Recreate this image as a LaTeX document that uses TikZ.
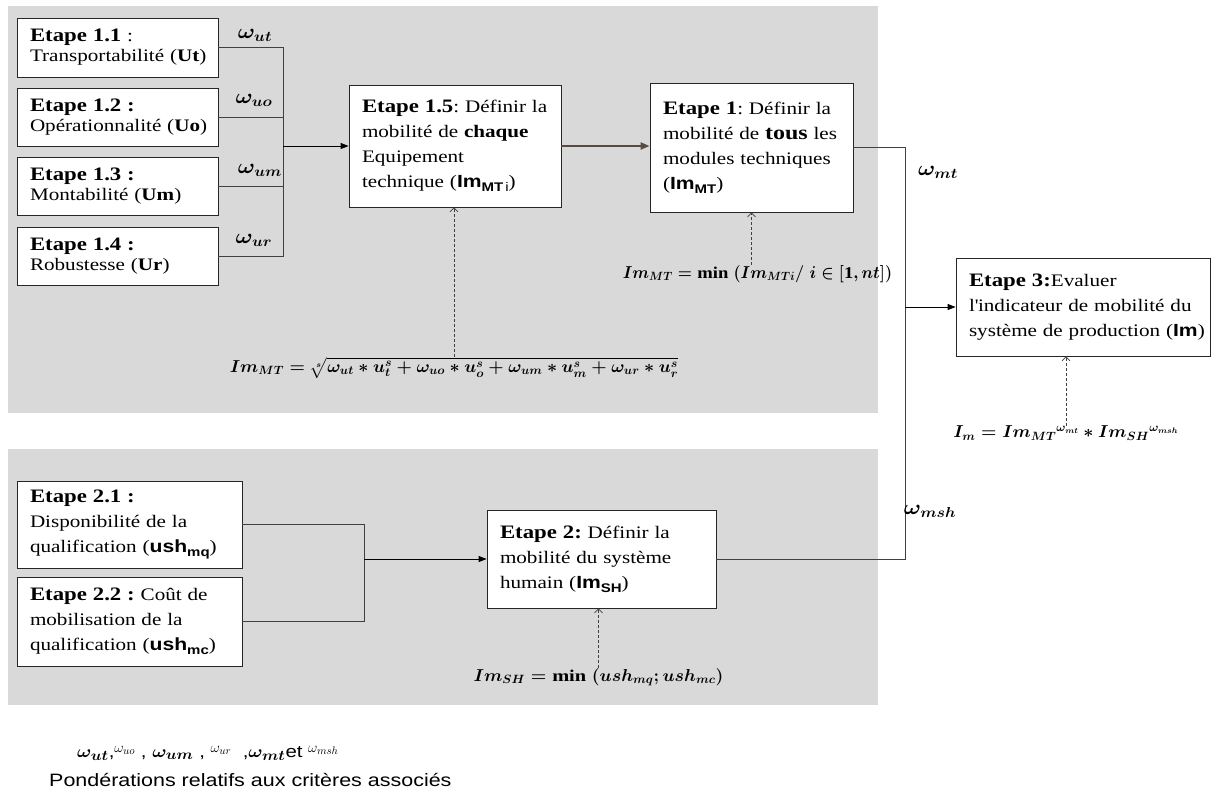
\documentclass[tikz,border=0pt]{standalone}
\usepackage{amsmath,bm}
\usepackage{graphicx}
\usepackage{fontspec}
\setmainfont{Liberation Serif}[FakeStretch=1.2]
\setsansfont{Liberation Sans}[FakeStretch=1.2]
\usetikzlibrary{arrows.meta}
\definecolor{panel}{HTML}{D9D9D9}
\definecolor{ln}{HTML}{404040}
\definecolor{brn}{HTML}{574A43}
\newcommand\hd[1]{{\fontsize{19}{20}\selectfont\bfseries #1}}
\newcommand\IM[1]{\textsf{\bfseries Im}\raisebox{-0.45ex}{\fontsize{12.5}{12.5}\selectfont\sffamily\bfseries #1}}
\newcommand\USH[1]{\textsf{\bfseries ush}\raisebox{-0.45ex}{\fontsize{12.5}{12.5}\selectfont\sffamily\bfseries #1}}
\newcommand\mstr[1]{\scalebox{1.1}[1]{#1}}
\newcommand\bfm[2]{\scalebox{#1}[1]{\boldmath$#2$}}
\newcommand\wsmall[1]{\raisebox{5pt}{\fontsize{15}{15}\selectfont$\omega_{#1}$}}
\newcommand\wbig[1]{{\fontsize{19}{19}\selectfont\mstr{$\bm{\omega_{#1}}$}}}
\tikzset{
  box/.style={draw=black!85, fill=white, line width=0.8pt, inner xsep=13pt, inner ysep=0pt,
    align=left, font=\fontsize{17.6}{25}\selectfont},
  sbox/.style={box, font=\fontsize{17.6}{20}\selectfont},
  conn/.style={draw=ln, line width=0.9pt},
  arr/.style={draw=black, line width=0.9pt, -{Triangle[length=8pt,width=6pt]}},
  barr/.style={draw=brn, line width=2pt, -{Triangle[length=9pt,width=7pt]}},
  darr/.style={draw=ln, line width=0.7pt, dash pattern=on 3pt off 2pt, -{Straight Barb[length=4pt,width=8pt]}},
  wlab/.style={inner sep=0pt, font=\fontsize{19.5}{19.5}\selectfont},
  frm/.style={inner sep=0pt, font=\fontsize{16.5}{16.5}\selectfont}
}
\begin{document}
\frenchspacing
\begin{tikzpicture}[x=1pt,y=-1pt]
\useasboundingbox (0,0) rectangle (1212,796);
% panels
\fill[panel] (8,6) rectangle (878,413);
\fill[panel] (8,449) rectangle (878,705);
% step 1 boxes
\node[sbox, minimum width=201pt, minimum height=59pt, text width=175pt] (b11) at (117.5,47.5)
  {\mbox{\hd{Etape 1.1} :}\\\mbox{Transportabilité (\textbf{Ut})}};
\node[sbox, minimum width=201pt, minimum height=58pt, text width=175pt] (b12) at (117.5,117)
  {\mbox{\hd{Etape 1.2 :}}\\\mbox{Opérationnalité (\textbf{Uo})}};
\node[sbox, minimum width=201pt, minimum height=58pt, text width=175pt] (b13) at (117.5,186)
  {\mbox{\hd{Etape 1.3 :}}\\\mbox{Montabilité (\textbf{Um})}};
\node[sbox, minimum width=201pt, minimum height=58pt, text width=175pt] (b14) at (117.5,256)
  {\mbox{\hd{Etape 1.4 :}}\\\mbox{Robustesse (\textbf{Ur})}};
\node[box, minimum width=212pt, minimum height=122pt, text width=186pt] (b15) at (455,146)
  {\mbox{\hd{Etape 1.5}: Définir la}\\\mbox{mobilité de \textbf{chaque}}\\\mbox{Equipement}\\\mbox{technique (\IM{MT\,\mdseries i})}};
\node[box, minimum width=203pt, minimum height=129pt, text width=177pt] (b1) at (751.5,147.5)
  {\mbox{\hd{Etape 1}: Définir la}\\\mbox{mobilité de {\fontsize{20}{20}\selectfont\bfseries tous} les}\\\mbox{modules techniques}\\\mbox{(\IM{MT})}};
\node[box, minimum width=254pt, minimum height=98pt, text width=228pt] (b3) at (1083,307)
  {\mbox{\hd{Etape 3:}Evaluer}\\\mbox{l\textquotesingle indicateur de mobilité du}\\\mbox{système de production (\textsf{\bfseries Im})}};
% step 2 boxes
\node[box, minimum width=225pt, minimum height=87pt, text width=199pt] (b21) at (129.5,524.5)
  {\mbox{\hd{Etape 2.1 :}}\\\mbox{Disponibilité de la}\\\mbox{qualification (\USH{mq})}};
\node[box, minimum width=225pt, minimum height=89pt, text width=199pt] (b22) at (129.5,621.5)
  {\mbox{\hd{Etape 2.2 :} Coût de}\\\mbox{mobilisation de la}\\\mbox{qualification (\USH{mc})}};
\node[box, minimum width=229pt, minimum height=98pt, text width=203pt] (b2) at (601.5,559)
  {\mbox{\hd{Etape 2:} Définir la}\\\mbox{mobilité du système}\\\mbox{humain (\IM{SH})}};
% connectors step 1
\coordinate (bus1) at (283,146);
\draw[conn] (b11.east) -| (bus1);
\draw[conn] (b12.east) -| (bus1);
\draw[conn] (b13.east) -| (bus1);
\draw[conn] (b14.east) -| (bus1);
\draw[arr] (bus1) -- (b15.west);
\draw[barr] (b15.east) -- (b15.east -| b1.west);
\coordinate (j) at (905,307);
\draw[conn] (b1.east) -| (j);
\draw[conn] (b2.east) -| (j);
\draw[arr] (j) -- (b3.west);
% connectors step 2
\coordinate (bus2) at (364,559);
\draw[conn] (b21.east) -| (bus2);
\draw[conn] (b22.east) -| (bus2);
\draw[arr] (bus2) -- (b2.west);
% weight labels
\node[wlab] (wut) at (255,35) {\mstr{$\bm{\omega_{ut}}$}};
\node[wlab] (wuo) at (254,100) {\mstr{$\bm{\omega_{uo}}$}};
\node[wlab] (wum) at (260,170) {\mstr{$\bm{\omega_{um}}$}};
\node[wlab] (wur) at (254,240) {\mstr{$\bm{\omega_{ur}}$}};
\node[wlab] (wmt) at (938,172) {\mstr{$\bm{\omega_{mt}}$}};
\node[wlab] (wmsh) at (930,511) {\mstr{$\bm{\omega_{msh}}$}};
% formulas
\node[frm] (f1) at (454,368) {\bfm{1.02}{Im_{MT} = \sqrt[s]{\omega_{ut} \ast u_t^s + \omega_{uo} \ast u_o^s + \omega_{um} \ast u_m^s + \omega_{ur} \ast u_r^s}}};
\node[frm] (f2) at (757.5,274) {\bfm{0.94}{Im_{MT} = \textbf{min}\;(Im_{MTi}/\;i \in [\textbf{1}, nt])}};
\node[frm] (f3) at (1066,433) {\bfm{1.02}{I_m = Im_{MT}{}^{\omega_{mt}} \ast Im_{SH}{}^{\omega_{msh}}}};
\node[frm] (f4) at (598.5,677) {\bfm{1.03}{Im_{SH} = \textbf{min}\;(ush_{mq}; ush_{mc})}};
\draw[darr] (f1.north) -- (f1.north |- b15.south);
\draw[darr] (b1.south |- f2.north) -- (b1.south);
\draw[darr] (f3.north) -- (f3.north |- b3.south);
\draw[darr] (f4.north) -- (f4.north |- b2.south);
% bottom legend
\node[inner sep=0pt, anchor=west, font=\sffamily\fontsize{17}{17}\selectfont] (leg1) at (77,753)
  {\wbig{ut},\wsmall{uo} , \wbig{um} , \wsmall{ur}\ \ ,\wbig{mt}et \wsmall{msh}};
\node[inner sep=0pt, anchor=west, font=\sffamily\fontsize{17.9}{18}\selectfont] (leg2) at (49,780)
  {Pondérations relatifs aux critères associés};
\end{tikzpicture}
\end{document}
